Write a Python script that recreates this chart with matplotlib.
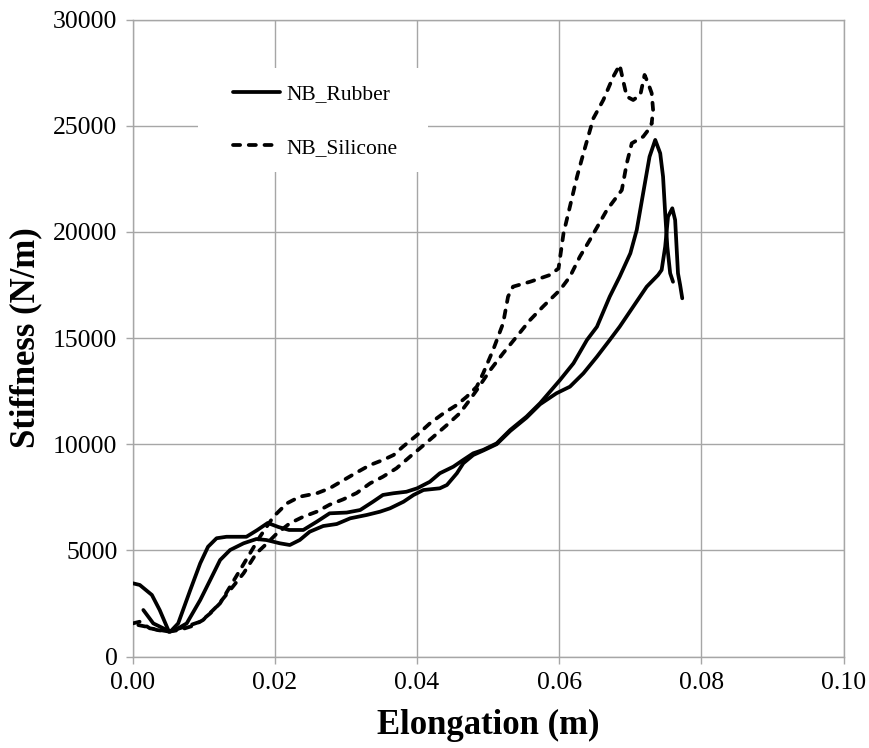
import matplotlib
matplotlib.use("Agg")
import matplotlib.pyplot as plt
from matplotlib.patches import Rectangle

plt.rcParams['font.family'] = ['Liberation Serif', 'DejaVu Serif']

# Axis ticks
x_ticks = [0.00, 0.02, 0.04, 0.06, 0.08, 0.10]
x_tick_labels = ["0.00", "0.02", "0.04", "0.06", "0.08", "0.10"]
y_ticks = [0, 5000, 10000, 15000, 20000, 25000, 30000]
y_tick_labels = ["0", "5000", "10000", "15000", "20000", "25000", "30000"]

# NB_Rubber, trial 1
rubber_1_x = [0.0, 0.001, 0.0027, 0.0038, 0.005, 0.0053, 0.0064, 0.0081, 0.0095,
              0.0106, 0.0118, 0.0132, 0.016, 0.0175, 0.0190, 0.0205, 0.0220, 0.024,
              0.0259, 0.0277, 0.0301, 0.0320, 0.0338, 0.0352, 0.0367, 0.0385, 0.040,
              0.0418, 0.0432, 0.0451, 0.0465, 0.0479, 0.0493, 0.0512, 0.0531, 0.0554,
              0.0573, 0.0601, 0.062, 0.0639, 0.0653, 0.0671, 0.0685, 0.070, 0.0709,
              0.0718, 0.0727, 0.0735, 0.0742, 0.0746, 0.0749, 0.0752, 0.0756, 0.0760]
rubber_1_y = [3450, 3370, 2900, 2190, 1250, 1170, 1560, 3130, 4390,
              5170, 5570, 5640, 5640, 5950, 6290, 6100, 5960, 5960,
              6350, 6744, 6780, 6900, 7290, 7610, 7690, 7760, 7920,
              8230, 8630, 8940, 9260, 9570, 9730, 10040, 10670, 11300,
              11930, 13020, 13810, 14910, 15530, 16950, 17890, 18990, 20090,
              21820, 23540, 24330, 23700, 22600, 20870, 19300, 18050, 17650]

# NB_Rubber, trial 2
rubber_2_x = [0.0015, 0.0029, 0.0043, 0.0051, 0.0060, 0.0076, 0.0095, 0.0109, 0.0123,
              0.0137, 0.0156, 0.0174, 0.0188, 0.0207, 0.0221, 0.0235, 0.0249, 0.0268,
              0.0287, 0.0306, 0.0329, 0.0348, 0.0362, 0.0381, 0.0395, 0.0409, 0.0432,
              0.0442, 0.0456, 0.0465, 0.0479, 0.0493, 0.0512, 0.0531, 0.0554, 0.0573,
              0.0596, 0.0615, 0.0634, 0.0653, 0.0671, 0.0685, 0.0704, 0.0723, 0.0739,
              0.0744, 0.0749, 0.0753, 0.0759, 0.0763, 0.0765, 0.0767, 0.0770, 0.0773]
rubber_2_y = [2190, 1560, 1330, 1170, 1250, 1560, 2660, 3600, 4545,
              5016, 5332, 5534, 5487, 5332, 5252, 5487, 5878, 6146,
              6240, 6509, 6665, 6822, 6980, 7291, 7607, 7842, 7922,
              8078, 8629, 9100, 9490, 9700, 10000, 10620, 11250, 11880,
              12396, 12708, 13339, 14120, 14907, 15534, 16476, 17417, 17968,
              18204, 19302, 20713, 21110, 20559, 19302, 18048, 17500, 16871]

# NB_Silicone, trial 1
silicone_1_x = [0.0, 0.001, 0.0024, 0.0038, 0.0052, 0.0066, 0.0081, 0.0095, 0.0109,
                0.0123, 0.0137, 0.0151, 0.0165, 0.0179, 0.0198, 0.0217, 0.0235, 0.0259,
                0.0277, 0.0301, 0.0317, 0.0334, 0.0352, 0.0367, 0.038, 0.040, 0.0418,
                0.0437, 0.0456, 0.047, 0.0484, 0.0493, 0.0507, 0.0521, 0.0528, 0.0535,
                0.0559, 0.0587, 0.0599, 0.0606, 0.0615, 0.0625, 0.0634, 0.0648, 0.0662,
                0.0676, 0.0685, 0.0690, 0.0695, 0.0704, 0.0714, 0.0720, 0.0725, 0.0730,
                0.0732, 0.0730]
silicone_1_y = [1560, 1640, 1330, 1250, 1170, 1330, 1480, 1640, 2030,
                2510, 3290, 4070, 4860, 5640, 6585, 7215, 7527, 7687,
                7922, 8393, 8704, 9020, 9255, 9490, 9880, 10430, 10980,
                11450, 11850, 12240, 12710, 13340, 14440, 15690, 16950, 17420,
                17650, 17970, 18280, 19930, 21190, 22600, 23700, 25348, 26212,
                27310, 27860, 27100, 26370, 26210, 26450, 27390, 27000, 26530,
                25740, 25110]

# NB_Silicone, trial 2
silicone_2_x = [0.0008, 0.002, 0.0034, 0.005, 0.0066, 0.0085, 0.0099, 0.0118, 0.0137,
                0.0156, 0.0174, 0.0188, 0.0203, 0.0221, 0.024, 0.0259, 0.0277, 0.0296,
                0.0315, 0.0334, 0.0352, 0.0371, 0.039, 0.0404, 0.0423, 0.0442, 0.046,
                0.0474, 0.0484, 0.0503, 0.0521, 0.054, 0.0559, 0.0577, 0.0601, 0.0615,
                0.0629, 0.0643, 0.0667, 0.0688, 0.0695, 0.0702, 0.0718, 0.0727, 0.0730]
silicone_2_y = [1480, 1400, 1250, 1170, 1250, 1450, 1720, 2350, 3130,
                3920, 4860, 5300, 5800, 6274, 6585, 6822, 7150, 7400,
                7700, 8157, 8468, 8864, 9411, 9806, 10352, 10904, 11455,
                12081, 12552, 13494, 14281, 15062, 15849, 16476, 17262, 17888,
                18831, 19617, 21030, 21970, 23230, 24170, 24483, 24876, 25110]

GRID = "#a6a6a6"
LW = 2.7
DASH = (0, (1.9, 2.3))

fig = plt.figure(figsize=(8.7, 7.48), dpi=100)
ax = fig.add_axes([0.1525, 0.1223, 0.8172, 0.8516])

ax.plot(rubber_1_x, rubber_1_y, color="black", lw=LW, solid_joinstyle="round",
        solid_capstyle="round", label="NB_Rubber", zorder=3)
ax.plot(rubber_2_x, rubber_2_y, color="black", lw=LW, solid_joinstyle="round",
        solid_capstyle="round", zorder=3)
ax.plot(silicone_1_x, silicone_1_y, color="black", lw=LW, linestyle=DASH,
        dash_capstyle="round", dash_joinstyle="round", label="NB_Silicone", zorder=3)
ax.plot(silicone_2_x, silicone_2_y, color="black", lw=LW, linestyle=DASH,
        dash_capstyle="round", dash_joinstyle="round", zorder=3)

ax.set_xlim(0, 0.10)
ax.set_ylim(0, 30000)
ax.set_xticks(x_ticks)
ax.set_xticklabels(x_tick_labels)
ax.set_yticks(y_ticks)
ax.set_yticklabels(y_tick_labels)
ax.grid(True, color=GRID, lw=1.0, zorder=0)
ax.set_axisbelow(True)
for side in ax.spines.values():
    side.set_color(GRID)
    side.set_linewidth(1.0)
ax.tick_params(axis="both", direction="out", length=5, width=1.0, color=GRID,
               labelsize=18.5, pad=6)

ax.set_xlabel("Elongation (m)", fontsize=25, fontweight="bold", labelpad=11)
ax.set_ylabel("Stiffness (N/m)", fontsize=25, fontweight="bold", labelpad=8)

# white panel behind the legend
ax.add_patch(Rectangle((0.092, 0.761), 0.323, 0.163, transform=ax.transAxes,
                       facecolor="white", edgecolor="none", zorder=1))
leg = ax.legend(loc="upper left", bbox_to_anchor=(0.141, 0.898), frameon=False,
                fontsize=15.5, handlelength=2.2, handletextpad=0.3,
                labelspacing=1.55, borderpad=0, borderaxespad=0)
leg.set_zorder(4)

fig.savefig("out.png", dpi=100)
